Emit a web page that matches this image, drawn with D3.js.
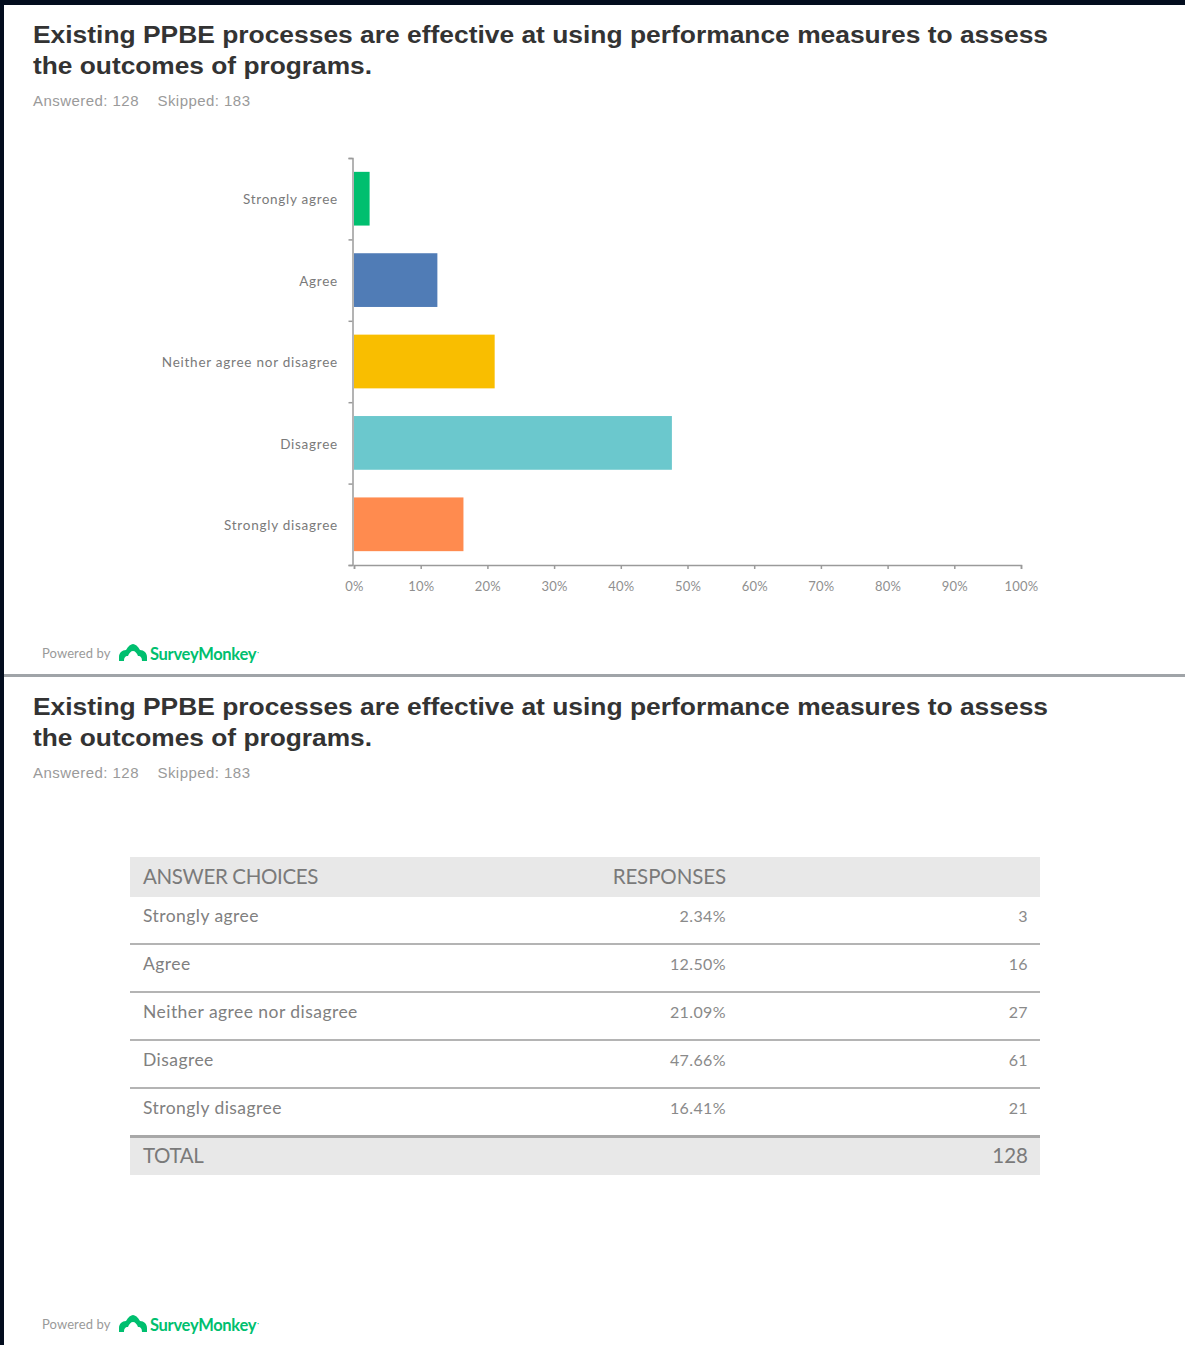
<!DOCTYPE html>
<html>
<head>
<meta charset="utf-8">
<script src="https://cdn.jsdelivr.net/npm/d3@7"></script>
<style>
  html, body { margin: 0; padding: 0; background: #030d1e; }
  svg { display: block; }
</style>
</head>
<body>
<svg id="page" width="1185" height="1345"></svg>
<script>
// Survey question: answer categories, share of responses and raw counts
const categories = ["Strongly agree", "Agree", "Neither agree nor disagree", "Disagree", "Strongly disagree"];
const percents = [2.34, 12.50, 21.09, 47.66, 16.41];
const counts = [3, 16, 27, 61, 21];
const barColors = ["#00bf6f", "#507cb6", "#f9be00", "#6bc8cd", "#ff8b4f"];
const xTicks = [0, 10, 20, 30, 40, 50, 60, 70, 80, 90, 100];
const answered = 128;
const skipped = 183;
const titleLines = ["Existing PPBE processes are effective at using performance measures to assess",
                    "the outcomes of programs."];

const svg = d3.select("#page");

// white sheet inside the dark frame
svg.append("rect").attr("x", 4).attr("y", 5).attr("width", 1181).attr("height", 1340).attr("fill", "#ffffff");

function header(g, baseY) {
  g.selectAll("text.title").data(titleLines).join("text")
    .attr("class", "title")
    .attr("x", 33).attr("y", (d, i) => baseY + i * 31)
    .attr("font-family", "Liberation Sans, Arial, sans-serif")
    .attr("font-weight", "bold").attr("font-size", 23.5)
    .attr("fill", "#333333")
    .attr("textLength", (d, i) => i === 0 ? 1015 : 339)
    .attr("lengthAdjust", "spacingAndGlyphs")
    .text(d => d);
  g.append("text")
    .attr("x", 33).attr("y", baseY + 63)
    .attr("font-family", "Liberation Sans, Arial, sans-serif")
    .attr("font-size", 15).attr("fill", "#9a9a9a")
    .attr("xml:space", "preserve")
    .attr("textLength", 217).attr("lengthAdjust", "spacing")
    .text(`Answered: ${answered}    Skipped: ${skipped}`);
}

function poweredBy(g, y) {
  g.append("text").attr("x", 42).attr("y", y + 5)
    .attr("font-family", "Lato, sans-serif").attr("font-size", 13)
    .attr("fill", "#9a9a9a").attr("letter-spacing", 0.1)
    .text("Powered by");
  // monkey mark
  g.append("path")
    .attr("transform", `translate(133,${y})`)
    .attr("d", "M-14,8 L-14,4 C-14,0 -11,-3 -7,-3 C-5,-7 -2,-9 0,-9 C2,-9 5,-7 7,-3 C11,-3 14,0 14,4 L14,8 L9,8 C9,5 8,3 5,3 C4,0 2,-2 0,-2 C-2,-2 -4,0 -5,3 C-8,3 -9,5 -9,8 Z")
    .attr("fill", "#00bf6f");
  g.append("text").attr("x", 150).attr("y", y + 7)
    .attr("font-family", "Lato, sans-serif").attr("font-weight", "bold").attr("font-size", 16.5)
    .attr("fill", "#00bf6f").attr("letter-spacing", -0.3)
    .text("SurveyMonkey");
  g.append("text").attr("x", 257).attr("y", y + 2)
    .attr("font-family", "Lato, sans-serif").attr("font-size", 8)
    .attr("fill", "#00bf6f").text("·");
}

// ---------- Upper panel: horizontal bar chart ----------
const upper = svg.append("g");
header(upper, 43);

const x = d3.scaleLinear().domain([0, 100]).range([354, 1021]);
const y = d3.scaleBand().domain(categories).range([158, 565]).paddingInner(0.34).paddingOuter(0.17);
const yEdges = d3.scaleLinear().domain([0, categories.length]).range([158, 565]);

upper.append("g").selectAll("rect").data(categories).join("rect")
  .attr("x", x(0))
  .attr("y", d => y(d))
  .attr("width", (d, i) => x(percents[i]) - x(0))
  .attr("height", y.bandwidth())
  .attr("fill", (d, i) => barColors[i]);

const yAxis = upper.append("g").attr("transform", `translate(${x(0) - 1.5},0)`)
  .call(d3.axisLeft(yEdges).tickValues(d3.range(categories.length + 1)).tickSize(4).tickFormat(""));
yAxis.selectAll("path, line").attr("stroke", "#9a9a9a").attr("stroke-width", 1.5);

upper.append("g").selectAll("text").data(categories).join("text")
  .attr("x", 338)
  .attr("y", d => y(d) + y.bandwidth() / 2 + 1)
  .attr("dy", "0.35em")
  .attr("text-anchor", "end")
  .attr("font-family", "Lato, sans-serif").attr("font-size", 13.5)
  .attr("letter-spacing", 0.75)
  .attr("fill", "#7a7a7a")
  .text(d => d);

const xAxis = upper.append("g").attr("transform", "translate(0,565)")
  .call(d3.axisBottom(x).tickValues(xTicks).tickSize(4).tickSizeOuter(4).tickPadding(13).tickFormat(d => d + "%"));
xAxis.select(".domain").attr("stroke", "#9a9a9a").attr("stroke-width", 1.5);
xAxis.selectAll(".tick line").attr("stroke", "#9a9a9a").attr("stroke-width", 1.5);
xAxis.selectAll(".tick text").attr("font-family", "Lato, sans-serif").attr("font-size", 13)
  .attr("letter-spacing", 0.2).attr("fill", "#8f8f8f");

poweredBy(upper, 653);

// divider between the two panels
svg.append("rect").attr("x", 4).attr("y", 674).attr("width", 1181).attr("height", 3).attr("fill", "#a0a4a8");

// ---------- Lower panel: response table ----------
const lower = svg.append("g");
header(lower, 715);

const tableLeft = 130, tableRight = 1040;
const rowY = d3.scaleBand().domain(categories).range([897, 1137]);
const font = "Lato, sans-serif";

lower.append("rect").attr("x", tableLeft).attr("y", 857).attr("width", tableRight - tableLeft).attr("height", 40).attr("fill", "#e8e8e8");
lower.append("text").attr("x", 143).attr("y", 877).attr("dy", "0.35em")
  .attr("font-family", font).attr("font-size", 20.5).attr("fill", "#7a7a7a").attr("letter-spacing", -0.35)
  .text("ANSWER CHOICES");
lower.append("text").attr("x", 726).attr("y", 877).attr("dy", "0.35em").attr("text-anchor", "end")
  .attr("font-family", font).attr("font-size", 20.5).attr("fill", "#7a7a7a").attr("letter-spacing", -0.1)
  .text("RESPONSES");

const rows = lower.append("g").selectAll("g").data(categories).join("g")
  .attr("transform", d => `translate(0,${rowY(d)})`);
rows.append("text").attr("x", 143).attr("y", 19).attr("dy", "0.35em")
  .attr("font-family", font).attr("font-size", 17.5).attr("fill", "#808080").attr("letter-spacing", 0.45)
  .text(d => d);
rows.append("text").attr("x", 726).attr("y", 19).attr("dy", "0.35em").attr("text-anchor", "end")
  .attr("font-family", font).attr("font-size", 16).attr("fill", "#8a8a8a").attr("letter-spacing", 0.4)
  .text((d, i) => percents[i].toFixed(2) + "%");
rows.append("text").attr("x", 1028).attr("y", 19).attr("dy", "0.35em").attr("text-anchor", "end")
  .attr("font-family", font).attr("font-size", 16).attr("fill", "#8a8a8a").attr("letter-spacing", 0.4)
  .text((d, i) => counts[i]);
rows.append("rect")
  .attr("x", tableLeft).attr("y", rowY.bandwidth() - 2)
  .attr("width", tableRight - tableLeft)
  .attr("height", (d, i) => i === categories.length - 1 ? 3 : 2)
  .attr("fill", (d, i) => i === categories.length - 1 ? "#a8a8a8" : "#b4b4b4");

lower.append("rect").attr("x", tableLeft).attr("y", 1138).attr("width", tableRight - tableLeft).attr("height", 37).attr("fill", "#e8e8e8");
lower.append("text").attr("x", 143).attr("y", 1156).attr("dy", "0.35em")
  .attr("font-family", font).attr("font-size", 20.5).attr("fill", "#7a7a7a").attr("letter-spacing", -0.35)
  .text("TOTAL");
lower.append("text").attr("x", 1028).attr("y", 1156).attr("dy", "0.35em").attr("text-anchor", "end")
  .attr("font-family", font).attr("font-size", 20.5).attr("fill", "#7a7a7a")
  .text(d3.sum(counts));

poweredBy(lower, 1324);
</script>
</body>
</html>
